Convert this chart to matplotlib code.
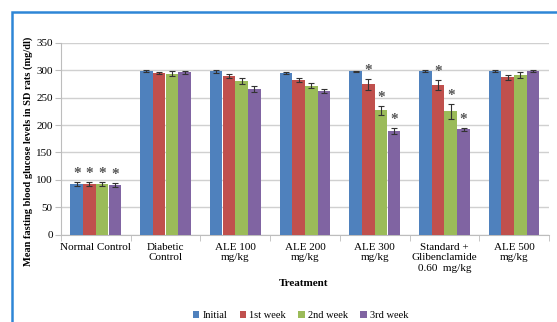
import numpy as np
import matplotlib.pyplot as plt
from matplotlib.patches import Rectangle

plt.rcParams['font.family'] = ['Liberation Serif', 'DejaVu Serif']

groups = ['Normal Control', 'Diabetic\nControl', 'ALE 100\nmg/kg', 'ALE 200\nmg/kg',
          'ALE 300\nmg/kg', 'Standard +\nGlibenclamide\n0.60  mg/kg', 'ALE 500\nmg/kg']
weeks = ['Initial', '1st week', '2nd week', '3rd week']

initial = [93, 298, 298, 295, 298, 298, 298]
week1 = [93, 295, 290, 282, 274, 273, 287]
week2 = [92, 294, 280, 272, 227, 225, 291]
week3 = [91, 296, 266, 262, 189, 192, 298]

err_initial = [4, 2, 3, 2, 1, 2, 2]
err_week1 = [4, 2, 4, 4, 10, 9, 5]
err_week2 = [4, 4, 6, 4, 8, 14, 6]
err_week3 = [4, 2, 6, 4, 6, 3, 2]

# asterisks (significant) per series
sig_initial = [1, 0, 0, 0, 0, 0, 0]
sig_week1 = [1, 0, 0, 0, 1, 1, 0]
sig_week2 = [1, 0, 0, 0, 1, 1, 0]
sig_week3 = [1, 0, 0, 0, 1, 1, 0]

colors = ['#4F81BD', '#C0504D', '#9BBB59', '#8064A2']

series = [initial, week1, week2, week3]
errs = [err_initial, err_week1, err_week2, err_week3]
sigs = [sig_initial, sig_week1, sig_week2, sig_week3]

fig = plt.figure(figsize=(5.57, 3.22), dpi=100)
ax = fig.add_axes([0.1095, 0.271, 0.876, 0.596])

x = np.arange(len(groups))
w = 0.18
for i in range(4):
    pos = x + (i - 1.5) * (w + 0.003)
    ax.bar(pos, series[i], w, color=colors[i], label=weeks[i], zorder=3,
           yerr=errs[i], error_kw=dict(ecolor='#333333', elinewidth=0.8, capsize=2, capthick=0.8))
    for j in range(len(groups)):
        if sigs[i][j]:
            ax.text(pos[j], series[i][j] + errs[i][j] + 3, '*', ha='center', va='bottom',
                    fontsize=11, color='#555555', fontweight='bold')

ax.set_xlim(-0.5, len(groups) - 0.5)
ax.set_ylim(0, 350)
ax.set_yticks(np.arange(0, 351, 50))
ax.yaxis.grid(True, color='#d0d0d0', linewidth=1, zorder=0)
ax.set_axisbelow(True)
for s in ['top', 'right']:
    ax.spines[s].set_visible(False)
ax.spines['left'].set_color('#bdbdbd')
ax.spines['bottom'].set_color('#bdbdbd')

ax.set_xticks(x)
ax.set_xticklabels(groups, fontsize=8, linespacing=1.2)
ax.tick_params(axis='x', length=0, pad=6)
ax.set_xticks(np.arange(-0.5, len(groups)), minor=True)
ax.tick_params(axis='x', which='minor', length=4, color='#bdbdbd')
ax.tick_params(axis='y', labelsize=8, length=4, color='#bdbdbd', pad=2)

fig.text(0.545, 0.12, 'Treatment', ha='center', va='center', fontsize=8, fontweight='bold')
fig.text(0.05, 0.53, 'Mean fasting blood glucose levels in SD rats (mg/dl)', rotation=90,
         ha='center', va='center', fontsize=7.5, fontweight='bold')

ax.legend(loc='center', bbox_to_anchor=(0.54, 0.019), bbox_transform=fig.transFigure,
          ncol=4, frameon=False, fontsize=7.5, handlelength=0.6, handleheight=0.6,
          handletextpad=0.3, columnspacing=1.2)

fig.patches.append(Rectangle((12 / 557, -0.05), 1.2, 1 - 12 / 322 + 0.05, transform=fig.transFigure,
                             fill=False, edgecolor='#2E86D6', linewidth=1.8))

fig.savefig('out.png', dpi=100)
